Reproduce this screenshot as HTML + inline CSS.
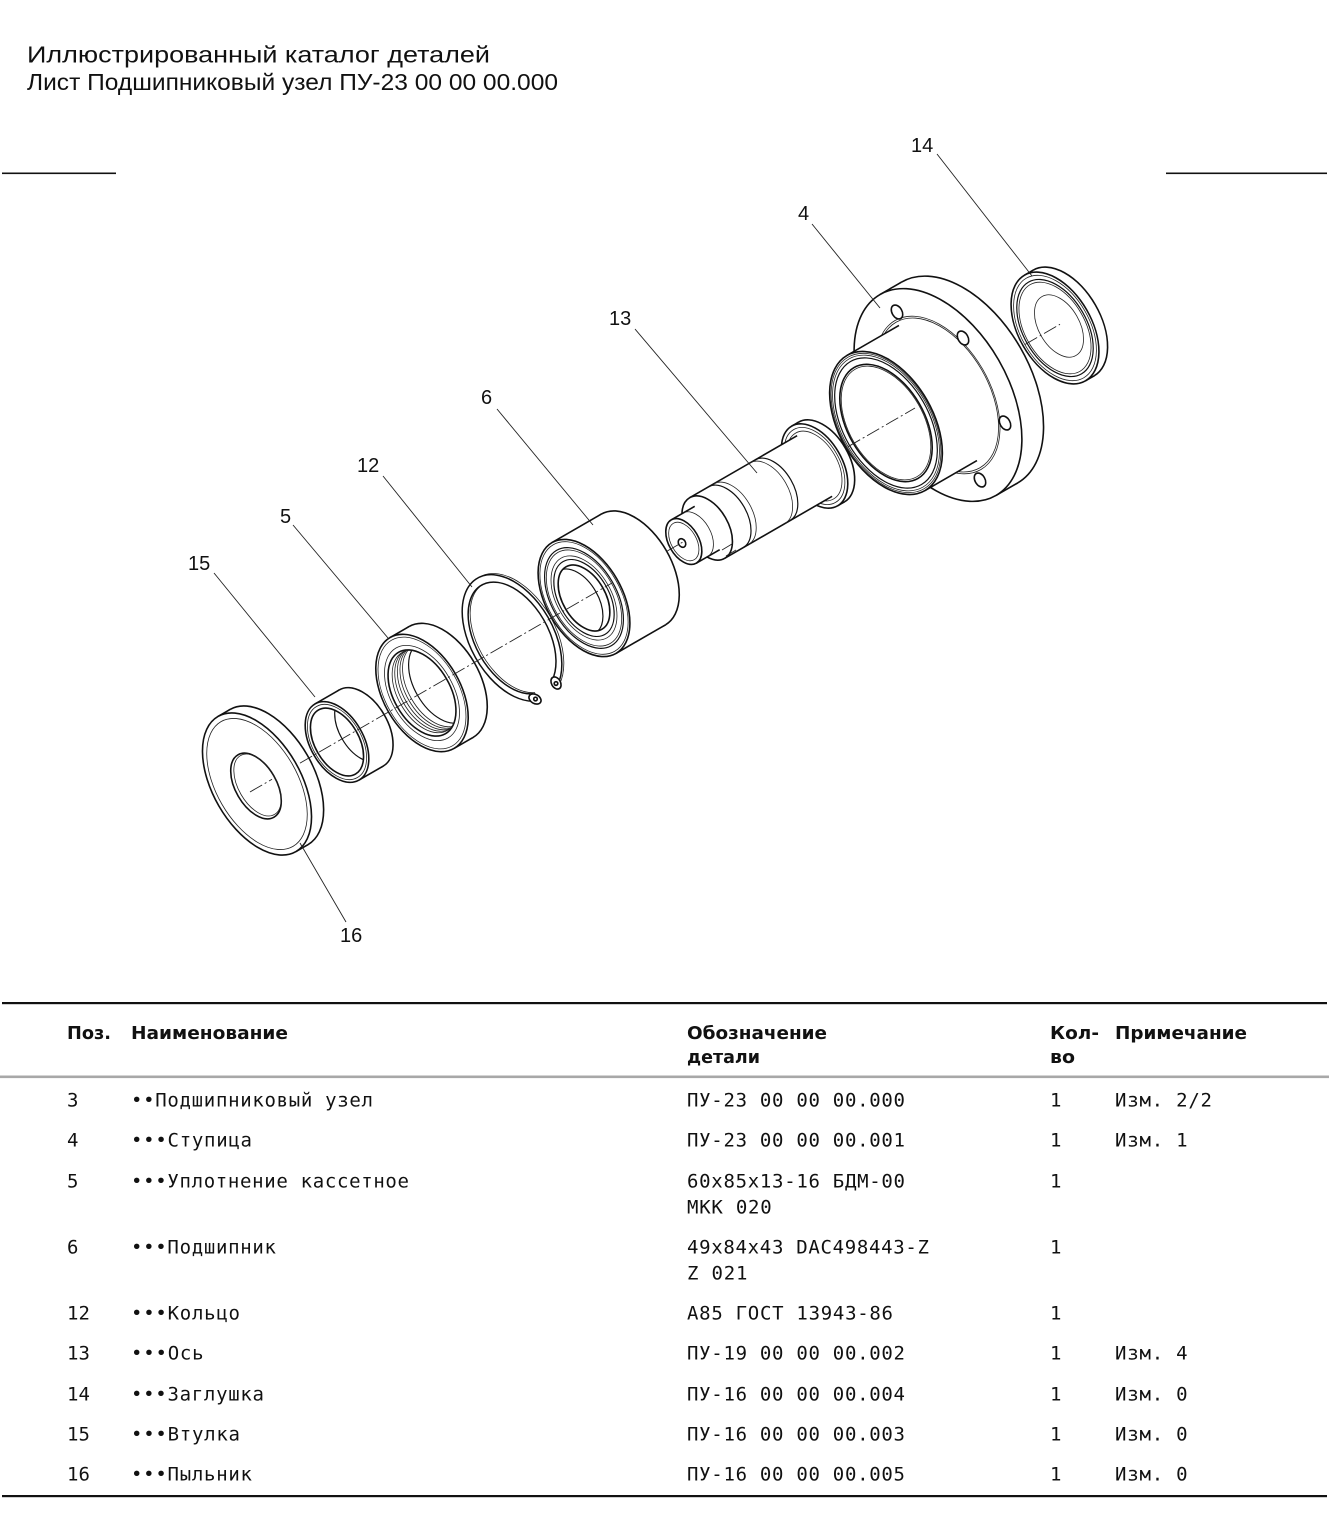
<!DOCTYPE html>
<html><head><meta charset="utf-8"><style>
html,body{margin:0;padding:0;background:#fff;}
svg{display:block;}
.o{fill:#fff;stroke:#111;stroke-width:1.6}
.m{fill:none;stroke:#111;stroke-width:1.2}
.t{fill:none;stroke:#222;stroke-width:0.8}
.f{fill:#fff;stroke:none}
.s{stroke:#111;stroke-width:1.6}
.ld{stroke:#222;stroke-width:0.9}
.ax{stroke:#222;stroke-width:0.9;stroke-dasharray:14 3 2 3;fill:none}
.lb{font-family:"Liberation Sans",Arial,sans-serif;font-size:20px;fill:#111}
.ti{font-family:"Liberation Sans",Arial,sans-serif;font-size:23.5px;fill:#111}
.mono{font-family:"DejaVu Sans Mono","Liberation Mono",monospace;font-size:19px;fill:#111}
.hd{font-family:"DejaVu Sans","Liberation Sans",sans-serif;font-size:17.5px;font-weight:bold;fill:#111}
</style></head><body>
<svg width="1329" height="1526" viewBox="0 0 1329 1526" xmlns="http://www.w3.org/2000/svg">
<defs>
<clipPath id="c15"><ellipse cx="337" cy="742" rx="37" ry="22" transform="rotate(60 337 742)"/></clipPath>
<clipPath id="c5"><ellipse cx="422" cy="693" rx="47" ry="28.3" transform="rotate(60 422 693)"/></clipPath>
<clipPath id="c6"><ellipse cx="584" cy="598" rx="36" ry="21.4" transform="rotate(60 584 598)"/></clipPath>
</defs>
<rect width="1329" height="1526" fill="#fff"/>

<!-- Title -->
<text class="ti" x="27" y="62.5" textLength="463" lengthAdjust="spacingAndGlyphs">Иллюстрированный каталог деталей</text>
<text class="ti" x="27" y="90" textLength="531" lengthAdjust="spacingAndGlyphs">Лист Подшипниковый узел ПУ-23 00 00 00.000</text>
<rect x="2" y="172.5" width="114" height="1.6" fill="#111"/>
<rect x="1166" y="172.5" width="161" height="1.6" fill="#111"/>

<!-- Part 14 cap -->
<ellipse class="o" cx="1063.66" cy="323" rx="61" ry="36.5" transform="rotate(60 1063.66 323)"/>
<polygon class="f" points="1024.5,275.17 1033.16,270.17 1094.16,375.83 1085.5,380.83"/>
<line class="s" x1="1024.5" y1="275.17" x2="1033.16" y2="270.17"/>
<line class="s" x1="1085.5" y1="380.83" x2="1094.16" y2="375.83"/>
<ellipse class="o" cx="1055" cy="328" rx="61" ry="36.5" transform="rotate(60 1055 328)"/>
<ellipse class="t" cx="1055" cy="328" rx="57.5" ry="34.4" transform="rotate(60 1055 328)"/>
<ellipse class="m" cx="1055" cy="328" rx="53" ry="31.8" transform="rotate(60 1055 328)"/>
<ellipse class="t" cx="1055" cy="328" rx="50" ry="30" transform="rotate(60 1055 328)"/>
<ellipse class="t" cx="1059" cy="326" rx="34" ry="20.4" transform="rotate(60 1059 326)"/>

<!-- Part 4 hub: flange -->
<ellipse class="o" cx="959.65" cy="382.5" rx="116" ry="70" transform="rotate(60 959.65 382.5)"/>
<polygon class="f" points="880,294.54 901.65,282.04 1017.65,482.96 996,495.46"/>
<line class="s" x1="880" y1="294.54" x2="901.65" y2="282.04"/>
<line class="s" x1="996" y1="495.46" x2="1017.65" y2="482.96"/>
<ellipse class="o" cx="938" cy="395" rx="116" ry="70" transform="rotate(60 938 395)"/>
<ellipse class="t" cx="938" cy="395" rx="86" ry="51.6" transform="rotate(60 938 395)"/>
<ellipse class="t" cx="938" cy="395" rx="84" ry="50.4" transform="rotate(60 938 395)"/>
<ellipse class="o" cx="897" cy="312" rx="7.5" ry="5" transform="rotate(60 897 312)"/>
<ellipse class="o" cx="963" cy="338" rx="7.5" ry="5" transform="rotate(60 963 338)"/>
<ellipse class="o" cx="1005" cy="423" rx="7.5" ry="5" transform="rotate(60 1005 423)"/>
<ellipse class="o" cx="980" cy="480" rx="7.5" ry="5" transform="rotate(60 980 480)"/>
<!-- boss -->
<polygon class="f" points="847,355.45 898.96,325.45 976.96,460.55 925,490.55"/>
<line class="s" x1="847" y1="355.45" x2="898.96" y2="325.45"/>
<line class="s" x1="925" y1="490.55" x2="976.96" y2="460.55"/>
<ellipse class="o" cx="886" cy="423" rx="78" ry="47" transform="rotate(60 886 423)"/>
<ellipse class="t" cx="886" cy="423" rx="76" ry="45.8" transform="rotate(60 886 423)"/>
<ellipse class="t" cx="886" cy="423" rx="74" ry="44.6" transform="rotate(60 886 423)"/>
<ellipse class="m" cx="886" cy="423" rx="71" ry="42.8" transform="rotate(60 886 423)"/>
<ellipse class="o" cx="886" cy="423" rx="64" ry="38.5" transform="rotate(60 886 423)"/>
<ellipse class="t" cx="886" cy="423" rx="62" ry="37.3" transform="rotate(60 886 423)"/>

<!-- Part 13 shaft: flange -->
<ellipse class="o" cx="821.5" cy="462" rx="46" ry="27.6" transform="rotate(60 821.5 462)"/>
<polygon class="f" points="791.6,426.2 798.5,422.2 844.5,501.8 837.6,505.8"/>
<line class="s" x1="791.6" y1="426.2" x2="798.5" y2="422.2"/>
<line class="s" x1="837.6" y1="505.8" x2="844.5" y2="501.8"/>
<ellipse class="o" cx="814.6" cy="466" rx="46" ry="27.6" transform="rotate(60 814.6 466)"/>
<ellipse class="t" cx="814.6" cy="466" rx="42" ry="25.2" transform="rotate(60 814.6 466)"/>
<ellipse class="t" cx="814.6" cy="466" rx="38" ry="22.8" transform="rotate(60 814.6 466)"/>
<!-- body -->
<polygon class="f" points="689.7,497.7 797.1,435.7 832.1,496.3 724.7,558.3"/>
<line class="s" x1="689.7" y1="497.7" x2="797.1" y2="435.7"/>
<line class="s" x1="724.7" y1="558.3" x2="832.1" y2="496.3"/>
<path class="m" d="M755.5 459.7 A35 21 60 0 1 790.5 520.3"/>
<path class="t" d="M750.3 462.7 A35 21 60 0 1 785.3 523.3"/>
<path class="m" d="M708.7 486.7 A35 21 60 0 1 743.7 547.3"/>
<path class="t" d="M713.9 483.7 A35 21 60 0 1 748.9 544.3"/>
<ellipse class="o" cx="707.2" cy="528" rx="35" ry="21" transform="rotate(60 707.2 528)"/>
<line class="t" x1="722" y1="550" x2="732" y2="544"/>
<line class="t" x1="726" y1="556" x2="736" y2="550"/>
<!-- pin -->
<polygon class="f" points="671.3,519.85 694.7,506.35 719.7,549.65 696.3,563.15"/>
<line class="s" x1="671.3" y1="519.85" x2="694.7" y2="506.35"/>
<line class="s" x1="696.3" y1="563.15" x2="719.7" y2="549.65"/>
<path class="t" d="M683 513 A25 15 60 0 1 708 556.3"/>
<ellipse class="o" cx="683.8" cy="541.5" rx="25" ry="15" transform="rotate(60 683.8 541.5)"/>
<ellipse class="t" cx="683.8" cy="541.5" rx="21" ry="12.6" transform="rotate(60 683.8 541.5)"/>
<ellipse class="o" cx="682" cy="543" rx="4.5" ry="3.5" transform="rotate(60 682 543)"/>

<!-- Part 6 bearing -->
<ellipse class="o" cx="633.36" cy="569.5" rx="64" ry="38" transform="rotate(60 633.36 569.5)"/>
<polygon class="f" points="552,542.6 601.36,514.1 665.36,624.9 616,653.4"/>
<line class="s" x1="552" y1="542.6" x2="601.36" y2="514.1"/>
<line class="s" x1="616" y1="653.4" x2="665.36" y2="624.9"/>
<ellipse class="o" cx="584" cy="598" rx="64" ry="38" transform="rotate(60 584 598)"/>
<ellipse class="t" cx="584" cy="598" rx="61.5" ry="36.5" transform="rotate(60 584 598)"/>
<ellipse class="m" cx="584" cy="598" rx="55" ry="32.6" transform="rotate(60 584 598)"/>
<ellipse class="t" cx="584" cy="598" rx="52.5" ry="31.2" transform="rotate(60 584 598)"/>
<ellipse class="t" cx="584" cy="598" rx="46" ry="27.3" transform="rotate(60 584 598)"/>
<ellipse class="m" cx="584" cy="598" rx="42" ry="25" transform="rotate(60 584 598)"/>
<ellipse class="o" cx="584" cy="598" rx="36" ry="21.4" transform="rotate(60 584 598)"/>
<g clip-path="url(#c6)">
<ellipse class="m" cx="577.1" cy="602" rx="36" ry="21.4" transform="rotate(60 577.1 602)"/>
<ellipse class="m" cx="633.36" cy="569.5" rx="36" ry="21.4" transform="rotate(60 633.36 569.5)"/>
</g>

<!-- Part 12 ring -->
<path class="t" transform="translate(2,-1.2)" d="M535.2 701.1 A69 41.5 60 1 1 557.4 685.7 L552.2 680.1 A61 36.5 60 1 0 532.6 693.8 Z"/>
<path fill="#fff" stroke="#111" stroke-width="1.5" d="M535.2 701.1 A69 41.5 60 1 1 557.4 685.7 L552.2 680.1 A61 36.5 60 1 0 532.6 693.8 Z"/>
<ellipse class="o" cx="535" cy="699" rx="6.5" ry="4.5" transform="rotate(30 535 699)"/>
<circle class="o" cx="535.5" cy="699" r="1.8"/>
<ellipse class="o" cx="556" cy="683" rx="6.5" ry="4.5" transform="rotate(60 556 683)"/>
<circle class="o" cx="556" cy="683.5" r="1.8"/>

<!-- Part 5 seal -->
<ellipse class="o" cx="441.05" cy="682" rx="64" ry="38.5" transform="rotate(60 441.05 682)"/>
<polygon class="f" points="390,637.6 409.05,626.6 473.05,737.4 454,748.4"/>
<line class="s" x1="390" y1="637.6" x2="409.05" y2="626.6"/>
<line class="s" x1="454" y1="748.4" x2="473.05" y2="737.4"/>
<ellipse class="o" cx="422" cy="693" rx="64" ry="38.5" transform="rotate(60 422 693)"/>
<ellipse class="t" cx="422" cy="693" rx="61" ry="36.6" transform="rotate(60 422 693)"/>
<ellipse class="t" cx="422" cy="693" rx="52" ry="31.2" transform="rotate(60 422 693)"/>
<ellipse class="o" cx="422" cy="693" rx="47" ry="28.3" transform="rotate(60 422 693)"/>
<g clip-path="url(#c5)">
<ellipse class="t" cx="424.6" cy="691.5" rx="45" ry="27" transform="rotate(60 424.6 691.5)"/>
<ellipse class="t" cx="427.2" cy="690" rx="45" ry="27" transform="rotate(60 427.2 690)"/>
<ellipse class="t" cx="429.8" cy="688.5" rx="45" ry="27" transform="rotate(60 429.8 688.5)"/>
<ellipse class="t" cx="432.4" cy="687" rx="45" ry="27" transform="rotate(60 432.4 687)"/>
<ellipse class="t" cx="435" cy="685.5" rx="45" ry="27" transform="rotate(60 435 685.5)"/>
<ellipse class="m" cx="441.05" cy="682" rx="45" ry="27" transform="rotate(60 441.05 682)"/>
</g>

<!-- Part 15 bushing -->
<ellipse class="o" cx="361.25" cy="728" rx="44" ry="26.5" transform="rotate(60 361.25 728)"/>
<polygon class="f" points="315,703.9 339.25,689.9 383.25,766.1 359,780.1"/>
<line class="s" x1="315" y1="703.9" x2="339.25" y2="689.9"/>
<line class="s" x1="359" y1="780.1" x2="383.25" y2="766.1"/>
<ellipse class="o" cx="337" cy="742" rx="44" ry="26.5" transform="rotate(60 337 742)"/>
<ellipse class="t" cx="337" cy="742" rx="41" ry="24.6" transform="rotate(60 337 742)"/>
<ellipse class="o" cx="337" cy="742" rx="37" ry="22" transform="rotate(60 337 742)"/>
<g clip-path="url(#c15)">
<ellipse class="m" cx="361.25" cy="728" rx="37" ry="22" transform="rotate(60 361.25 728)"/>
</g>

<!-- Part 16 dust cover -->
<ellipse class="o" cx="269.1" cy="777" rx="78" ry="44" transform="rotate(60 269.1 777)"/>
<polygon class="f" points="218,716.45 230.1,709.45 308.1,844.55 296,851.55"/>
<line class="s" x1="218" y1="716.45" x2="230.1" y2="709.45"/>
<line class="s" x1="296" y1="851.55" x2="308.1" y2="844.55"/>
<ellipse class="o" cx="257" cy="784" rx="78" ry="44" transform="rotate(60 257 784)"/>
<ellipse class="t" cx="257" cy="784" rx="72" ry="40.5" transform="rotate(60 257 784)"/>
<ellipse class="o" cx="256" cy="786" rx="36" ry="20.5" transform="rotate(60 256 786)"/>
<ellipse class="t" cx="257.5" cy="785" rx="34" ry="19" transform="rotate(60 257.5 785)"/>

<!-- Axis centre line -->
<line class="ax" x1="250" y1="791.96" x2="272" y2="779.26"/>
<line class="ax" x1="300" y1="763.09" x2="612" y2="582.96"/>
<line class="ax" x1="666" y1="551.78" x2="684" y2="541.39"/>
<line class="ax" x1="848" y1="446.70" x2="915" y2="408.03"/>
<line class="ax" x1="1025" y1="344.51" x2="1060" y2="324.31"/>

<!-- Leaders & labels -->
<line class="ld" x1="937" y1="154" x2="1032" y2="276"/>
<text class="lb" x="911" y="152">14</text>
<line class="ld" x1="812" y1="224" x2="880" y2="308"/>
<text class="lb" x="798" y="220">4</text>
<line class="ld" x1="635" y1="329" x2="757" y2="473"/>
<text class="lb" x="609" y="325">13</text>
<line class="ld" x1="497" y1="409" x2="593" y2="525"/>
<text class="lb" x="481" y="404">6</text>
<line class="ld" x1="383" y1="476" x2="472" y2="587"/>
<text class="lb" x="357" y="472">12</text>
<line class="ld" x1="293" y1="525" x2="388" y2="638"/>
<text class="lb" x="280" y="523">5</text>
<line class="ld" x1="214" y1="573" x2="315" y2="697"/>
<text class="lb" x="188" y="570">15</text>
<line class="ld" x1="346" y1="922" x2="300" y2="843"/>
<text class="lb" x="340" y="942">16</text>

<!-- Table -->
<rect x="2" y="1002" width="1325" height="2.2" fill="#111"/>
<text class="hd" x="67" y="1039" textLength="44" lengthAdjust="spacingAndGlyphs">Поз.</text>
<text class="hd" x="131" y="1039" textLength="157" lengthAdjust="spacingAndGlyphs">Наименование</text>
<text class="hd" x="687" y="1039" textLength="140" lengthAdjust="spacingAndGlyphs">Обозначение</text>
<text class="hd" x="687" y="1063" textLength="73" lengthAdjust="spacingAndGlyphs">детали</text>
<text class="hd" x="1050" y="1039" textLength="49" lengthAdjust="spacingAndGlyphs">Кол-</text>
<text class="hd" x="1050" y="1063" textLength="25" lengthAdjust="spacingAndGlyphs">во</text>
<text class="hd" x="1115" y="1039" textLength="132" lengthAdjust="spacingAndGlyphs">Примечание</text>
<rect x="0" y="1075.5" width="1329" height="2.6" fill="#a8a8a8"/>

<g class="mono">
<text x="67" y="1106.5">3</text>
<text x="131" y="1106.5" textLength="242">••Подшипниковый узел</text>
<text x="687" y="1106.5" textLength="218">ПУ-23 00 00 00.000</text>
<text x="1050" y="1106.5">1</text>
<text x="1115" y="1106.5" textLength="97">Изм. 2/2</text>

<text x="67" y="1146.5">4</text>
<text x="131" y="1146.5" textLength="121">•••Ступица</text>
<text x="687" y="1146.5" textLength="218">ПУ-23 00 00 00.001</text>
<text x="1050" y="1146.5">1</text>
<text x="1115" y="1146.5" textLength="72.6">Изм. 1</text>

<text x="67" y="1187.5">5</text>
<text x="131" y="1187.5" textLength="278">•••Уплотнение кассетное</text>
<text x="687" y="1187.5" textLength="218">60x85x13-16 БДМ-00</text>
<text x="1050" y="1187.5">1</text>
<text x="687" y="1213.5" textLength="84.7">МКК 020</text>

<text x="67" y="1253.5">6</text>
<text x="131" y="1253.5" textLength="145">•••Подшипник</text>
<text x="687" y="1253.5" textLength="242">49x84x43 DAC498443-Z</text>
<text x="1050" y="1253.5">1</text>
<text x="687" y="1279.5" textLength="60.5">Z 021</text>

<text x="67" y="1319.5">12</text>
<text x="131" y="1319.5" textLength="109">•••Кольцо</text>
<text x="687" y="1319.5" textLength="206">А85 ГОСТ 13943-86</text>
<text x="1050" y="1319.5">1</text>

<text x="67" y="1359.5">13</text>
<text x="131" y="1359.5" textLength="72.6">•••Ось</text>
<text x="687" y="1359.5" textLength="218">ПУ-19 00 00 00.002</text>
<text x="1050" y="1359.5">1</text>
<text x="1115" y="1359.5" textLength="72.6">Изм. 4</text>

<text x="67" y="1400.5">14</text>
<text x="131" y="1400.5" textLength="133">•••Заглушка</text>
<text x="687" y="1400.5" textLength="218">ПУ-16 00 00 00.004</text>
<text x="1050" y="1400.5">1</text>
<text x="1115" y="1400.5" textLength="72.6">Изм. 0</text>

<text x="67" y="1440.5">15</text>
<text x="131" y="1440.5" textLength="109">•••Втулка</text>
<text x="687" y="1440.5" textLength="218">ПУ-16 00 00 00.003</text>
<text x="1050" y="1440.5">1</text>
<text x="1115" y="1440.5" textLength="72.6">Изм. 0</text>

<text x="67" y="1480.5">16</text>
<text x="131" y="1480.5" textLength="121">•••Пыльник</text>
<text x="687" y="1480.5" textLength="218">ПУ-16 00 00 00.005</text>
<text x="1050" y="1480.5">1</text>
<text x="1115" y="1480.5" textLength="72.6">Изм. 0</text>
</g>
<rect x="2" y="1495" width="1325" height="2.2" fill="#111"/>
</svg>
</body></html>
